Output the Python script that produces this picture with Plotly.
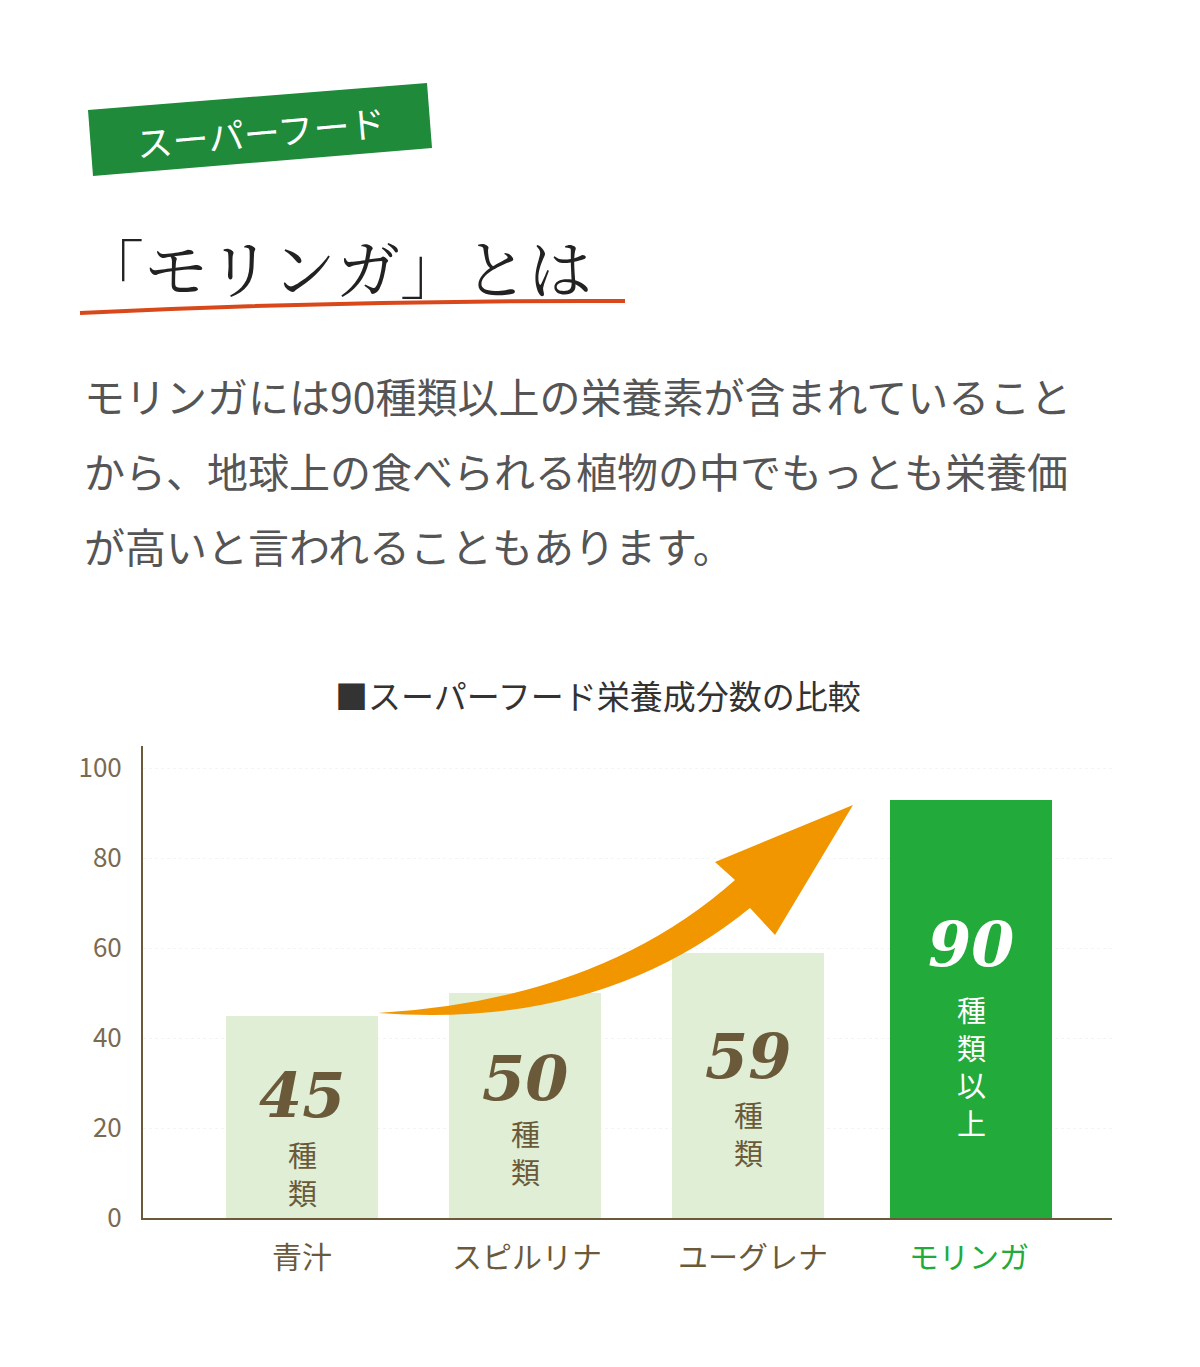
import plotly.graph_objects as go

categories = ["青汁", "スピルリナ", "ユーグレナ", "モリンガ"]
values = [45, 50, 59, 93]
label_numbers = ["45", "50", "59", "90"]
label_units = ["種<br>類", "種<br>類", "種<br>類", "種<br>類<br>以<br>上"]
y_ticks = [0, 20, 40, 60, 80, 100]

OFF = 8  # page body offset
W, H = 1200 - OFF, 1367 - OFF
L, R, T, B = 143 - OFF, 1112 - OFF, 746 - OFF, 1218 - OFF
def px(x): return (x - OFF - L) / (R - L)
def py(y): return (B - (y - OFF)) / (B - T)

FONT = "Noto Sans CJK JP"
BROWN = "#6b5a3a"
GREEN = "#22aa3a"

fig = go.Figure()
fig.add_trace(go.Bar(
    x=[0, 1, 2, 3], y=values,
    width=[0.68, 0.68, 0.68, 0.73],
    marker=dict(color=["#dfeed5", "#dfeed5", "#dfeed5", GREEN], line=dict(width=0)),
    hoverinfo="skip",
))

def ann(x, y, text, size, color, family=FONT, xanchor="center", angle=0, **kw):
    fig.add_annotation(x=px(x), y=py(y), xref="paper", yref="paper", text=text,
                       showarrow=False, xanchor=xanchor, yanchor="middle", textangle=angle,
                       font=dict(family=family, size=size, color=color), **kw)

num_y = [27.3, 31, 36, 60.7]
unit_y = [10, 14.7, 19, 33.8]
cat_x = [302, 527, 753, 969]
for i in range(4):
    c = "white" if i == 3 else BROWN
    fig.add_annotation(x=i, y=num_y[i], text="<i><b>%s</b></i>" % label_numbers[i], showarrow=False,
                       font=dict(family="DejaVu Serif", size=62, color=c))
    fig.add_annotation(x=i, y=unit_y[i], text=label_units[i], showarrow=False,
                       font=dict(family=FONT, size=29, color=c), yanchor="middle")
    ann(cat_x[i], 1255, categories[i], 30, GREEN if i == 3 else BROWN)

# arrow
coords = [(378,1013),(600,1000),(735,880),(715,862),(853,805),(775,935),(750,908),(600,1030),(378,1013)]
c = ["{},{}".format(px(x), py(y)) for x, y in coords]
path = "M {} Q {} {} L {} L {} L {} L {} Q {} {} Z".format(*c)
fig.add_shape(type="path", path=path, xref="paper", yref="paper",
              fillcolor="#f29600", line=dict(width=0), layer="above")

# header badge
badge = [(88,110),(427,83),(432,148),(93,176)]
bpath = "M " + " L ".join("{},{}".format(px(x), py(y)) for x, y in badge) + " Z"
fig.add_shape(type="path", path=bpath, xref="paper", yref="paper",
              fillcolor="#1e8a3a", line=dict(width=0), layer="below")
ann(260, 131, "スーパーフード", 36, "white", angle=-5)

ann(78, 265, "「モリンガ」とは", 64, "#222", family="Noto Serif CJK JP, Noto Sans CJK JP", xanchor="left")
fig.add_shape(type="path", xref="paper", yref="paper", layer="below",
              path="M {},{} Q {},{} {},{}".format(px(80), py(313), px(350), py(300), px(625), py(301)),
              line=dict(color="#d9481a", width=4))

para = ["モリンガには90種類以上の栄養素が含まれていること",
        "から、地球上の食べられる植物の中でもっとも栄養価",
        "が高いと言われることもあります。"]
for i, line in enumerate(para):
    ann(82, 395 + 75 * i, line, 41, "#555", xanchor="left")

ann(598, 695, "■スーパーフード栄養成分数の比較", 33, "#333")

fig.update_layout(
    width=W, height=H, showlegend=False,
    paper_bgcolor="white", plot_bgcolor="white",
    margin=dict(l=L, r=W - R, t=T, b=H - B, pad=0),
    bargap=0,
    xaxis=dict(range=[-0.713, 3.632], showticklabels=False, showgrid=False, zeroline=False,
               showline=True, linecolor=BROWN, linewidth=2, fixedrange=True),
    yaxis=dict(range=[0, 104.9], tickvals=y_ticks, ticks="", showgrid=True,
               gridcolor="#f4f4f4", gridwidth=1, griddash="dot", zeroline=False,
               showline=True, linecolor=BROWN, linewidth=2, ticklabelstandoff=14,
               tickfont=dict(family=FONT, size=26, color="#7a6a50"), fixedrange=True),
)
fig.write_html("out.html")
